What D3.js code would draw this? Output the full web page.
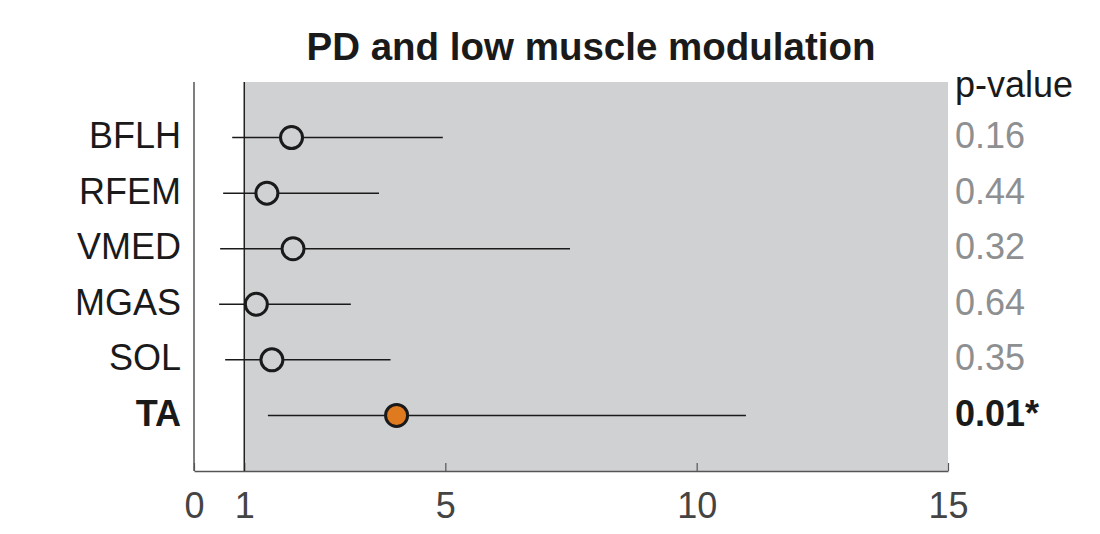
<!doctype html>
<html>
<head>
<style>
    body { margin: 0; background: #fff; font-family: 'Liberation Sans', Arial, sans-serif; }
    svg { display: block; }
    .title { font-size: 38.5px; font-weight: 700; fill: #1a1a1a; }
    .rowlabel { font-size: 36px; fill: #1a1a1a; }
    .pval { font-size: 36px; fill: #8e8f91; }
    .tick text { font-size: 36px; fill: #444; font-family: 'Liberation Sans', Arial, sans-serif; }
</style>
<script src="https://d3js.org/d3.v7.min.js"></script>
</head>
<body>
<svg width="1100" height="534"></svg>
<script>
    const muscles = ['BFLH', 'RFEM', 'VMED', 'MGAS', 'SOL', 'TA']
    const estimate = [1.94, 1.45, 1.97, 1.24, 1.55, 4.03]
    const ciLow = [0.76, 0.58, 0.52, 0.50, 0.62, 1.47]
    const ciHigh = [4.95, 3.68, 7.48, 3.12, 3.91, 10.98]
    const pValues = ['0.16', '0.44', '0.32', '0.64', '0.35', '0.01*']
    const significant = [false, false, false, false, false, true]
    const xTicks = [0, 1, 5, 10, 15]

    const svg = d3.select('svg')
    const plotLeft = 194, plotRight = 948, plotTop = 82, plotBottom = 471

    const x = d3.scaleLinear().domain([0, 15]).range([plotLeft, plotRight])
    const y = d3.scalePoint().domain(muscles).range([plotTop, plotBottom]).padding(1)

    // shaded region from 1 (no effect) to the right edge
    svg.append('rect')
        .attr('x', x(1)).attr('y', plotTop)
        .attr('width', x(15) - x(1)).attr('height', plotBottom - plotTop)
        .attr('fill', '#d0d1d3')

    // x axis
    const xAxis = svg.append('g')
        .attr('transform', `translate(0, ${plotBottom})`)
        .call(d3.axisBottom(x).tickValues(xTicks).tickSizeInner(-8).tickSizeOuter(0).tickPadding(21))
    xAxis.select('.domain').attr('stroke', '#555').attr('stroke-width', 1.5)
    xAxis.selectAll('.tick line').attr('stroke', '#555').attr('stroke-width', 1.2)

    // left axis line
    svg.append('line')
        .attr('x1', plotLeft).attr('x2', plotLeft)
        .attr('y1', plotTop).attr('y2', plotBottom)
        .attr('stroke', '#555').attr('stroke-width', 1.5)

    // reference line at 1
    svg.append('line')
        .attr('x1', x(1)).attr('x2', x(1))
        .attr('y1', plotTop).attr('y2', plotBottom)
        .attr('stroke', '#222').attr('stroke-width', 1.5)

    const rows = muscles.map((m, i) => ({
        name: m, est: estimate[i], lo: ciLow[i], hi: ciHigh[i], p: pValues[i], sig: significant[i]
    }))

    // confidence intervals
    svg.selectAll('.ci')
        .data(rows)
        .enter()
        .append('line')
        .attr('class', 'ci')
        .attr('x1', d => x(d.lo)).attr('x2', d => x(d.hi))
        .attr('y1', d => y(d.name)).attr('y2', d => y(d.name))
        .attr('stroke', '#1a1a1a').attr('stroke-width', 1.5)

    svg.selectAll('.pt')
        .data(rows)
        .enter()
        .append('circle')
        .attr('class', 'pt')
        .attr('cx', d => x(d.est))
        .attr('cy', d => y(d.name))
        .attr('r', 11)
        .attr('fill', d => d.sig ? '#e07a1f' : '#d0d1d3')
        .attr('stroke', '#1a1a1a')
        .attr('stroke-width', 3)

    // row labels
    svg.selectAll('.rowlabel')
        .data(rows)
        .enter()
        .append('text')
        .attr('class', 'rowlabel')
        .attr('x', 181)
        .attr('y', d => y(d.name))
        .attr('dy', '0.29em')
        .attr('text-anchor', 'end')
        .style('font-weight', d => d.sig ? 700 : 400)
        .text(d => d.name)

    // p-values
    svg.append('text')
        .attr('class', 'rowlabel')
        .attr('x', 955).attr('y', 97)
        .text('p-value')

    svg.selectAll('.pval')
        .data(rows)
        .enter()
        .append('text')
        .attr('class', 'pval')
        .attr('x', 955)
        .attr('y', d => y(d.name))
        .attr('dy', '0.29em')
        .style('font-weight', d => d.sig ? 700 : 400)
        .style('fill', d => d.sig ? '#1a1a1a' : null)
        .text(d => d.p)

    svg.append('text')
        .attr('class', 'title')
        .attr('x', 591).attr('y', 60)
        .attr('text-anchor', 'middle')
        .text('PD and low muscle modulation')
</script>
</body>
</html>
